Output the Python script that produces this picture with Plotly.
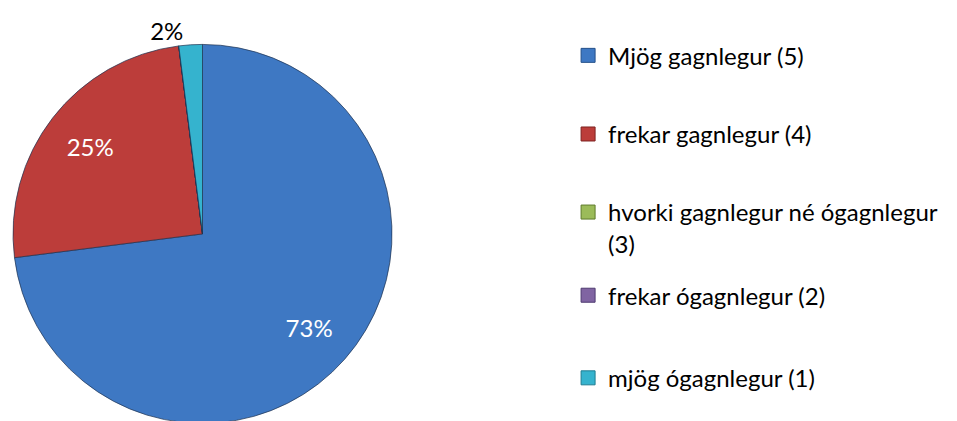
import plotly.graph_objects as go

labels = [
    "Mjög gagnlegur (5)",
    "frekar gagnlegur (4)",
    "hvorki gagnlegur né ógagnlegur<br>(3)",
    "frekar ógagnlegur (2)",
    "mjög ógagnlegur (1)",
]
values = [73, 25, 0, 0, 2]
colors = ["#3E78C3", "#BC3D3A", "#9BBB59", "#8064A2", "#35B3CE"]
edge_colors = ["#24508A", "#7E2220", "#5E7A2A", "#4E3A70", "#1E7C92"]
text_colors = ["white", "white", "black", "black", "black"]
text_pos = ["inside", "inside", "none", "none", "outside"]

FONT = "Lato, sans-serif"
W, H = 957, 421  # page body has an 8px margin; coordinates below are figure px
dom = dict(x=[0, 381 / W], y=[(H - 417.5) / H, (H - 36.5) / H])

fig = go.Figure()

# coloured pie
fig.add_trace(go.Pie(
    labels=labels, values=values, sort=False, direction="clockwise", rotation=0,
    marker=dict(colors=colors, line=dict(color="rgba(30,50,80,0.7)", width=1)),
    textinfo="none", hoverinfo="skip", showlegend=False,
    scalegroup="g", domain=dom,
))

# transparent ring carrying the percentage labels (places them at ~3/4 radius)
fig.add_trace(go.Pie(
    labels=labels, values=values, sort=False, direction="clockwise", rotation=0,
    hole=0.5,
    marker=dict(colors=["rgba(0,0,0,0)"] * len(values), line=dict(width=0)),
    texttemplate="%{percent:.0%}",
    textposition=text_pos,
    insidetextorientation="horizontal",
    textfont=dict(size=24, color=text_colors, family=FONT),
    outsidetextfont=dict(size=24, color="black", family=FONT),
    hoverinfo="skip", showlegend=False,
    scalegroup="g", domain=dom,
))

# legend entries, each in its own legend box so the spacing can follow the reference
legend_names = ["legend", "legend2", "legend3", "legend4", "legend5"]
legend_y = [48, 127, 221, 289, 372]  # vertical centre of each entry (figure px from top)
for lab, col, ec, ln in zip(labels, colors, edge_colors, legend_names):
    fig.add_trace(go.Scatter(
        x=[None], y=[None], mode="markers", name=lab, legend=ln,
        marker=dict(symbol="square", size=14, color=col, line=dict(color=ec, width=1)),
        hoverinfo="skip",
    ))

legend_style = dict(
    xanchor="left", yanchor="middle", valign="top",
    font=dict(size=24, family=FONT, color="black"),
    itemsizing="trace", bgcolor="rgba(0,0,0,0)",
)
lay = {}
for ln, yy in zip(legend_names, legend_y):
    lay[ln] = dict(x=558 / W, y=1 - yy / H, **legend_style)

fig.update_layout(
    width=W, height=H,
    margin=dict(l=0, r=0, t=0, b=0),
    paper_bgcolor="white",
    plot_bgcolor="white",
    font=dict(family=FONT, size=24, color="black"),
    xaxis=dict(visible=False),
    yaxis=dict(visible=False),
    showlegend=True,
    **lay,
)

fig.write_html("out.html")
